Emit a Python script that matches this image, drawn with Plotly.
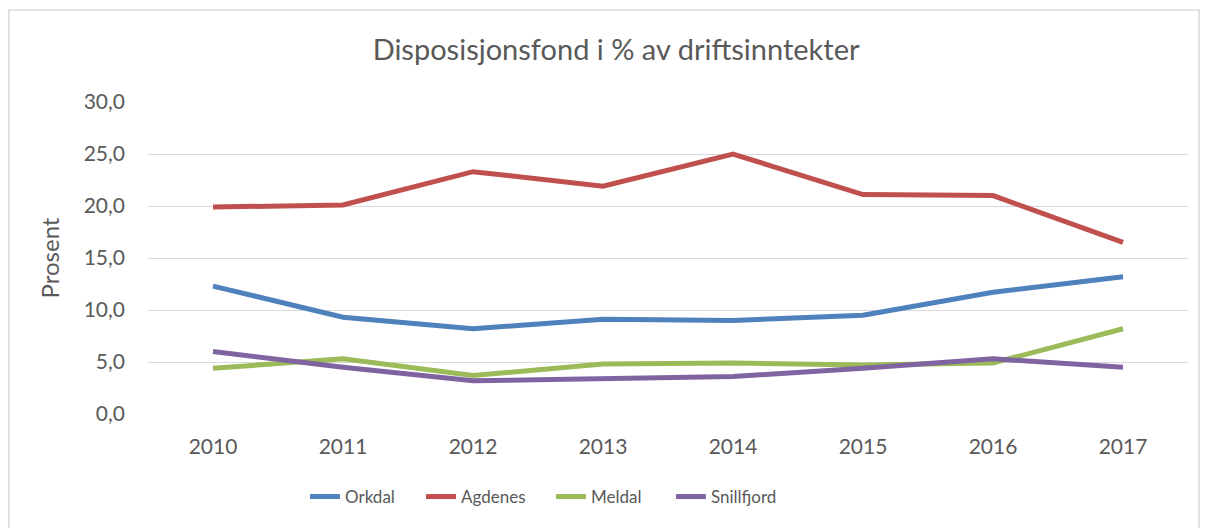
import plotly.graph_objects as go

years = ["2010", "2011", "2012", "2013", "2014", "2015", "2016", "2017"]
orkdal = [12.3, 9.3, 8.2, 9.1, 9.0, 9.5, 11.7, 13.2]
agdenes = [19.9, 20.1, 23.3, 21.9, 25.0, 21.1, 21.0, 16.5]
meldal = [4.4, 5.3, 3.7, 4.8, 4.9, 4.7, 4.9, 8.2]
snillfjord = [6.0, 4.5, 3.2, 3.4, 3.6, 4.4, 5.3, 4.5]

series = [
    ("Orkdal", orkdal, "#4F81BD"),
    ("Agdenes", agdenes, "#C0504D"),
    ("Meldal", meldal, "#9BBB59"),
    ("Snillfjord", snillfjord, "#8064A2"),
]
legend_x = [0.1510, 0.2625, 0.3875, 0.5028]

FONT = "Lato, Calibri, Carlito, sans-serif"
GREY = "#595959"

fig = go.Figure()
legend_ids = ["legend", "legend2", "legend3", "legend4"]
for (name, vals, col), lid in zip(series, legend_ids):
    fig.add_trace(go.Scatter(
        x=years, y=vals, name=name, mode="lines",
        line=dict(color=col, width=5), legend=lid,
    ))

legend_layout = {}
for lid, lx in zip(legend_ids, legend_x):
    legend_layout[lid] = dict(orientation="h", x=lx, xanchor="left", y=-0.266,
                              yanchor="middle", font=dict(size=17, color=GREY),
                              bgcolor="rgba(0,0,0,0)", borderwidth=0)

fig.update_layout(
    width=1208, height=528,
    margin=dict(l=148, r=20, t=102, b=114),
    paper_bgcolor="white", plot_bgcolor="white",
    separators=", ",
    font=dict(family=FONT, color=GREY, size=17),
    title=dict(text="Disposisjonsfond i % av driftsinntekter",
               x=0.51, xanchor="center", y=0.905, yanchor="middle",
               font=dict(size=29, color=GREY, family=FONT)),
    showlegend=True,
    xaxis=dict(type="category", range=[-0.5, 7.5], showgrid=False, showline=False,
               zeroline=False, ticks="", tickfont=dict(size=21, color=GREY),
               ticklabelstandoff=18),
    yaxis=dict(range=[0, 30], dtick=5, tickformat=".1f", showgrid=True,
               gridcolor="#D9D9D9", gridwidth=1.3, zeroline=False, showline=False,
               ticks="", tickfont=dict(size=21, color=GREY), ticklabelstandoff=22,
               title=dict(text="Prosent", font=dict(size=24, color=GREY), standoff=17)),
    shapes=[dict(type="rect", xref="paper", yref="paper",
                 x0=-0.1337, x1=1.0106, y0=-0.6, y1=1.295,
                 line=dict(color="#D9D9D9", width=1.5), fillcolor="rgba(0,0,0,0)", layer="below")],
    **legend_layout,
)

fig.write_html("out.html", config={"displayModeBar": False},
               post_script="document.body.style.margin='0';document.body.style.overflow='hidden';")
